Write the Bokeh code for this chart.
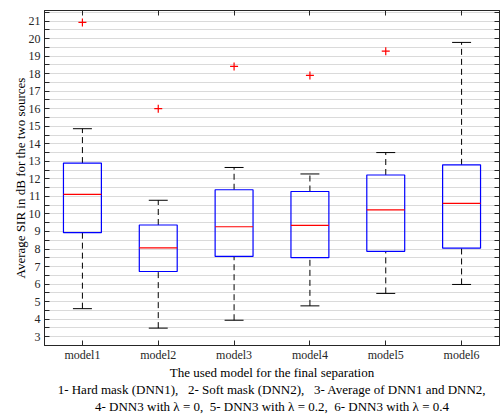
from bokeh.plotting import figure
from bokeh.models import FixedTicker, LinearAxis
from bokeh.embed import file_html
from bokeh.resources import INLINE

# ---- data ----
models = ["model1", "model2", "model3", "model4", "model5", "model6"]
positions = [1, 2, 3, 4, 5, 6]
q1 = [8.93, 6.72, 7.58, 7.51, 7.87, 8.05]
medians = [11.12, 8.07, 9.27, 9.35, 10.23, 10.60]
q3 = [12.90, 9.37, 11.38, 11.28, 12.22, 12.80]
lower = [4.60, 3.49, 3.94, 4.76, 5.47, 5.98]
upper = [14.86, 10.78, 12.65, 12.28, 13.50, 19.78]
outlier_pos = [1, 2, 3, 4, 5]
outlier_val = [20.92, 16.00, 18.41, 17.90, 19.28]
y_ticks = list(range(3, 22))
y_minor = [t + 0.5 for t in range(2, 22)]
NB = "\u00a0"
x_label = "The used model for the final separation"
caption1 = f"1- Hard mask (DNN1),{NB}{NB}{NB}2- Soft mask (DNN2),{NB}{NB}{NB}3- Average of DNN1 and DNN2,"
caption2 = f"4- DNN3 with \u03bb = 0,{NB}{NB}5- DNN3 with \u03bb = 0.2,{NB}{NB}6- DNN3 with \u03bb = 0.4"

FONT = "Liberation Serif"
AX = "#262626"
half_box = 0.25
half_cap = 0.125

p = figure(width=504, height=417, x_range=(0.5, 6.5), y_range=(2.5, 21.6),
           output_backend="svg", toolbar_location=None,
           min_border_left=44, min_border_right=5, min_border_top=10, min_border_bottom=0)
p.background_fill_color = "white"
p.border_fill_color = "white"
p.outline_line_color = AX
p.outline_line_width = 1

xt = FixedTicker(ticks=positions)
yt = FixedTicker(ticks=y_ticks, minor_ticks=y_minor)

p.xaxis.ticker = xt
p.yaxis.ticker = yt
p.xaxis.major_label_overrides = {pos: m for pos, m in zip(positions, models)}

for ax in (p.xaxis[0], p.yaxis[0]):
    ax.axis_line_color = AX
    ax.major_tick_line_color = AX
    ax.minor_tick_line_color = AX
    ax.major_tick_in = 5
    ax.major_tick_out = 0
    ax.minor_tick_in = 5
    ax.minor_tick_out = 0
    ax.major_label_text_font = FONT
    ax.major_label_text_font_size = "12px"
    ax.major_label_text_color = AX
    ax.axis_label_text_font = FONT
    ax.axis_label_text_font_size = "13px"
    ax.axis_label_text_font_style = "normal"
    ax.axis_label_text_color = "black"

p.xaxis.minor_tick_line_color = None
p.xaxis.major_label_standoff = 2
p.xaxis.axis_label = "\n".join([x_label, caption1, caption2])
p.xaxis.axis_label_standoff = 0
p.xaxis.axis_label_text_line_height = 1.15
p.yaxis.major_label_standoff = 4
p.yaxis.axis_label = "Average SIR in dB for the two sources"
p.yaxis.axis_label_standoff = -2

# right and top axes (ticks only, empty labels)
right = LinearAxis(ticker=yt, major_label_overrides={t: "" for t in y_ticks},
                   major_tick_in=5, major_tick_out=0,
                   minor_tick_in=5, minor_tick_out=0, axis_line_color=AX,
                   major_tick_line_color=AX, minor_tick_line_color=AX, major_label_standoff=0)
p.add_layout(right, "right")
top = LinearAxis(ticker=xt, major_label_overrides={t: "" for t in positions},
                 major_tick_in=5, major_tick_out=0,
                 minor_tick_line_color=None, axis_line_color=AX,
                 major_tick_line_color=AX, major_label_standoff=0)
p.add_layout(top, "above")

# grid
p.xgrid.grid_line_color = None
p.ygrid.ticker = yt
p.ygrid.grid_line_color = "#dadada"
p.ygrid.minor_grid_line_color = "#dadada"
p.ygrid.grid_line_width = 1
p.ygrid.minor_grid_line_width = 1

# whiskers (dashed)
p.segment(x0=positions, y0=q3, x1=positions, y1=upper, line_color="black",
          line_width=1, line_dash="6 4")
p.segment(x0=positions, y0=lower, x1=positions, y1=q1, line_color="black",
          line_width=1, line_dash="6 4")
# caps
p.segment(x0=[x - half_cap for x in positions], y0=upper,
          x1=[x + half_cap for x in positions], y1=upper, line_color="black", line_width=1)
p.segment(x0=[x - half_cap for x in positions], y0=lower,
          x1=[x + half_cap for x in positions], y1=lower, line_color="black", line_width=1)
# boxes
p.quad(left=[x - half_box for x in positions], right=[x + half_box for x in positions],
       bottom=q1, top=q3, fill_color=None, line_color="#0000ff", line_width=1.2)
# medians
p.segment(x0=[x - half_box for x in positions], y0=medians,
          x1=[x + half_box for x in positions], y1=medians, line_color="#ff0000", line_width=1.2)
# outliers
p.scatter(x=outlier_pos, y=outlier_val, marker="cross", size=8, line_color="#ff0000",
          line_width=1.2)

open("out.html", "w").write(file_html(p, INLINE))
